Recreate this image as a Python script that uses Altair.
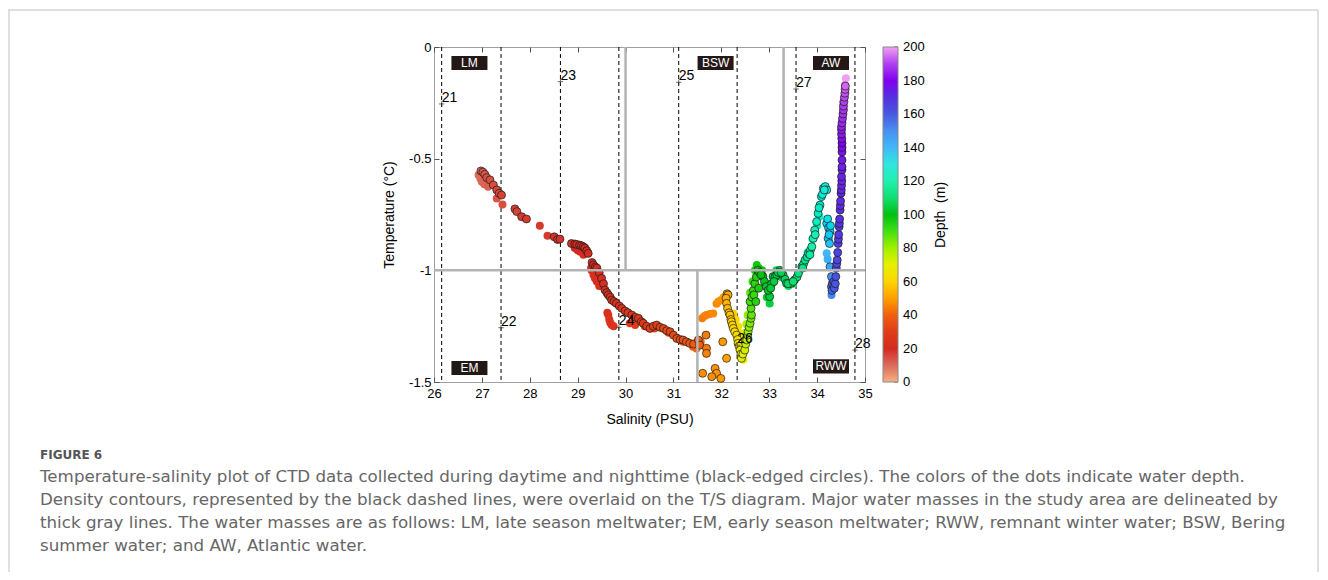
import altair as alt
import pandas as pd

# ---------------- data ----------------
night_sal = [26.98, 27.02, 27.06, 27.10, 27.17, 27.24, 27.31, 27.36, 27.41,
             27.69, 27.73, 27.83, 27.93,
             28.51, 28.58, 28.63,
             28.87, 28.94, 28.98, 29.04, 29.08, 29.12, 29.15, 29.19, 29.22,
             29.30, 29.33, 29.37, 29.40, 29.45, 29.50, 29.54, 29.57, 29.61, 29.64, 29.68, 29.71,
             29.76, 29.81, 29.87, 29.92, 29.99,
             30.05, 30.13, 30.20, 30.27, 30.33, 30.37, 30.44, 30.51, 30.58, 30.65, 30.72, 30.79,
             30.86, 30.93, 31.00, 31.07, 31.14, 31.20, 31.27, 31.34, 31.42, 31.52, 31.55,
             31.68, 31.69, 31.69, 31.61, 31.87, 31.90, 31.80, 31.99, 32.11, 32.03,
             32.12, 32.14, 32.10, 32.11, 32.13, 32.16, 32.18, 32.20, 32.21, 32.23, 32.25, 32.28,
             32.32, 32.34, 32.35, 32.37, 32.39, 32.41, 32.42,
             32.45, 32.49, 32.51, 32.53, 32.55, 32.56, 32.58, 32.60, 32.62, 32.63, 32.62, 32.60,
             32.64, 32.67, 32.70, 32.73, 32.76,
             32.80, 32.87, 32.90, 32.94, 33.01, 33.05, 33.08, 33.12, 33.16, 33.22, 33.29, 33.33,
             33.36, 33.42, 33.46, 33.53, 33.58, 33.61,
             32.83, 32.98, 33.03, 33.10, 33.19, 33.25, 33.39, 33.50, 32.68, 32.72, 32.78,
             33.68, 33.72, 33.75, 33.79, 33.82, 33.86, 33.89, 33.92, 33.95, 33.99, 34.02, 34.06,
             34.09, 34.13, 34.17, 34.20,
             33.70, 33.85, 33.96, 34.04, 34.11, 34.15,
             34.20, 34.24, 34.27, 34.23, 34.26, 34.22, 34.28, 34.25,
             34.27, 34.30, 34.30, 34.31, 34.32, 34.35, 34.36, 34.38,
             34.39, 34.40, 34.41, 34.42, 34.43, 34.44, 34.445, 34.45, 34.46, 34.465, 34.47, 34.48,
             34.485, 34.49, 34.50, 34.505, 34.51, 34.515, 34.51, 34.52, 34.52, 34.52, 34.52, 34.52,
             34.52, 34.515, 34.51, 34.51, 34.51, 34.52, 34.53, 34.54, 34.55, 34.55, 34.56, 34.57,
             34.58, 34.585, 34.59]
night_temp = [-0.555, -0.560, -0.570, -0.585, -0.595, -0.618, -0.640, -0.655, -0.663,
              -0.725, -0.737, -0.760, -0.770,
              -0.850, -0.862, -0.860,
              -0.880, -0.882, -0.884, -0.887, -0.890, -0.895, -0.900, -0.912, -0.924,
              -0.965, -0.976, -0.985, -0.990, -1.010, -1.036, -1.060, -1.088, -1.100, -1.110, -1.120, -1.133,
              -1.140, -1.148, -1.160, -1.170, -1.182,
              -1.190, -1.200, -1.210, -1.215, -1.230, -1.237, -1.250, -1.260, -1.250, -1.245, -1.255, -1.260,
              -1.270, -1.275, -1.290, -1.305, -1.310, -1.312, -1.320, -1.327, -1.330, -1.312, -1.335,
              -1.290, -1.349, -1.372, -1.461, -1.439, -1.461, -1.476, -1.484, -1.394, -1.320,
              -1.105, -1.110, -1.125, -1.148, -1.170, -1.190, -1.200, -1.220, -1.230, -1.245, -1.260, -1.275,
              -1.290, -1.310, -1.327, -1.340, -1.357, -1.375, -1.394,
              -1.375, -1.357, -1.330, -1.312, -1.290, -1.275, -1.255, -1.237, -1.215, -1.200, -1.170, -1.140,
              -1.120, -1.090, -1.060, -1.030, -1.000,
              -1.010, -1.028, -1.050, -1.073, -1.118, -1.060, -1.028, -1.030, -1.020, -1.000, -1.021, -1.040,
              -1.058, -1.060, -1.058, -1.043, -1.030, -1.013,
              -1.020, -1.090, -1.080, -1.050, -1.010, -1.010, -1.060, -1.050, -1.110, -1.140, -1.080,
              -0.984, -0.970, -0.954, -0.940, -0.924, -0.910, -0.894, -0.857, -0.820, -0.782, -0.745, -0.708,
              -0.670, -0.633, -0.625, -0.640,
              -0.990, -0.930, -0.840, -0.720, -0.660, -0.640,
              -0.790, -0.810, -0.827, -0.857, -0.880, -0.770, -0.800, -0.840,
              -0.984, -1.028, -1.073, -1.090, -1.060, -1.050, -1.080, -1.060,
              -1.028, -0.990, -0.970, -0.954, -0.920, -0.880, -0.860, -0.840, -0.805, -0.790, -0.770, -0.730,
              -0.710, -0.690, -0.655, -0.640, -0.620, -0.600, -0.580, -0.550, -0.536, -0.506, -0.470, -0.450,
              -0.430, -0.410, -0.390, -0.370, -0.357, -0.340, -0.320, -0.300, -0.282, -0.265, -0.245, -0.225,
              -0.207, -0.190, -0.175]
night_depth = [12, 13, 14, 14, 15, 15, 16, 16, 17,
               17, 17, 18, 18,
               19, 19, 19,
               19, 20, 20, 20, 20, 20, 21, 21, 21,
               21, 21, 22, 22, 22, 22, 23, 23, 23, 24, 24, 24,
               25, 25, 25, 26, 26,
               27, 27, 28, 28, 29, 29, 30, 30, 31, 31, 32, 32,
               33, 33, 34, 35, 35, 36, 36, 37, 38, 39, 40,
               44, 44, 45, 47, 48, 48, 47, 49, 50, 49,
               52, 52, 53, 54, 55, 56, 57, 58, 59, 60, 61, 62,
               63, 64, 65, 66, 67, 68, 69,
               71, 73, 75, 77, 79, 80, 82, 84, 86, 87, 89, 90,
               91, 92, 94, 96, 98,
               99, 100, 101, 102, 103, 103, 104, 104, 105, 105, 106, 107,
               107, 108, 109, 110, 111, 112,
               100, 102, 103, 104, 105, 106, 108, 110, 92, 95, 97,
               113, 114, 115, 116, 117, 118, 119, 120, 121, 122, 123, 124,
               125, 126, 127, 128,
               113, 117, 121, 124, 126, 127,
               133, 135, 136, 137, 138, 132, 134, 137,
               145, 150, 155, 158, 160, 159, 160, 161,
               162, 164, 164, 165, 166, 167, 167, 168, 169, 169, 170, 171,
               171, 172, 173, 173, 174, 174, 175, 175, 176, 177, 178, 179,
               180, 181, 182, 183, 184, 185, 186, 187, 188, 189, 190, 191,
               192, 193, 194]

day_sal = [26.93, 26.97, 27.00, 27.05, 27.13, 27.31, 27.43, 28.21, 28.37,
           28.94, 29.00, 29.05, 29.12, 29.28, 29.29, 29.33, 29.36, 29.40, 29.45,
           29.62, 29.64, 29.66, 29.68, 29.71, 29.75,
           30.09, 30.20, 30.40, 30.60, 30.90, 31.20, 31.41, 31.48, 31.57,
           31.60, 31.65, 31.69, 31.76, 31.83, 31.90, 31.94, 32.00, 32.05,
           32.25, 32.30, 32.35, 32.39, 32.42, 32.44, 32.46, 32.46, 32.48, 32.50, 32.52, 32.55,
           32.60, 32.65, 32.70, 32.74, 32.78, 32.85, 33.01, 32.95, 33.15, 33.25, 33.40, 33.50,
           33.80, 33.90, 34.00, 34.05,
           34.20, 34.22, 34.25, 34.30, 34.32,
           34.55, 34.58, 34.60, 34.58]
day_temp = [-0.573, -0.590, -0.603, -0.615, -0.626, -0.678, -0.705, -0.800, -0.845,
            -0.900, -0.910, -0.917, -0.930, -0.990, -1.000, -1.020, -1.036, -1.050, -1.070,
            -1.190, -1.200, -1.220, -1.235, -1.245, -1.250,
            -1.237, -1.245, -1.250, -1.260, -1.280, -1.320, -1.342, -1.350, -1.320,
            -1.215, -1.205, -1.200, -1.196, -1.193, -1.150, -1.140, -1.133, -1.120,
            -1.193, -1.220, -1.250, -1.282, -1.310, -1.340, -1.370, -1.400, -1.320, -1.280, -1.240, -1.200,
            -1.100, -1.050, -1.000, -0.976, -0.990, -1.000, -1.148, -1.120, -1.000, -1.030, -1.070, -1.060,
            -0.920, -0.860, -0.800, -0.760,
            -0.924, -0.950, -0.870, -1.110, -1.050,
            -0.250, -0.200, -0.140, -0.170]
day_depth = [10, 10, 11, 11, 12, 14, 15, 18, 18,
             20, 20, 20, 21, 21, 21, 22, 22, 22, 23,
             24, 24, 25, 25, 25, 26,
             28, 29, 30, 32, 34, 37, 39, 40, 41,
             44, 44, 45, 45, 46, 46, 47, 47, 48,
             58, 60, 62, 64, 66, 68, 70, 70, 72, 75, 78, 82,
             88, 92, 96, 98, 99, 100, 104, 103, 106, 107, 109, 110,
             117, 120, 122, 124,
             140, 142, 138, 152, 150,
             190, 195, 200, 198]

# density contours (sigma-t) and their labels
contour_sal = [26.16, 27.40, 28.64, 29.86, 31.11, 32.33, 33.56, 34.79]
contour_name = ["21", "22", "23", "24", "25", "26", "27", "28"]
contour_label_temp = [-0.255, -1.257, -0.155, -1.255, -0.158, -1.335, -0.188, -1.357]

# water-mass boundaries (thick gray lines)
bound_s1 = [26.0, 30.0, 33.3, 31.5]
bound_t1 = [-1.0, 0.0, 0.0, -1.0]
bound_s2 = [35.0, 30.0, 33.3, 31.5]
bound_t2 = [-1.0, -1.0, -1.0, -1.5]

# water-mass labels
mass_name = ["LM", "EM", "BSW", "AW", "RWW"]
mass_sal = [26.74, 26.74, 31.88, 34.29, 34.29]
mass_temp = [-0.072, -1.437, -0.072, -0.072, -1.430]

x_ticks = [26, 27, 28, 29, 30, 31, 32, 33, 34, 35]
y_ticks = [0, -0.5, -1, -1.5]
depth_ticks = [0, 20, 40, 60, 80, 100, 120, 140, 160, 180, 200]
depth_stops = [0, 10, 20, 30, 40, 50, 60, 70, 80, 90, 100, 110, 120, 130, 140, 150,
               160, 170, 180, 190, 200]
depth_colors = ["#f8b080", "#dc6a5c", "#d42a22", "#e03c18", "#f06010", "#ffa000",
                "#ffd400", "#e6f000", "#a0f000", "#40e010", "#00c010", "#10e070",
                "#20f0b0", "#30e6e0", "#40b8f8", "#4890f0", "#4858e0", "#5530e0",
                "#8000f0", "#b040f0", "#f0a0f0"]

caption_head = "FIGURE 6"
caption_lines = [
    "Temperature-salinity plot of CTD data collected during daytime and nighttime (black-edged circles). The colors of the dots indicate water depth.",
    "Density contours, represented by the black dashed lines, were overlaid on the T/S diagram. Major water masses in the study area are delineated by",
    "thick gray lines. The water masses are as follows: LM, late season meltwater; EM, early season meltwater; RWW, remnant winter water; BSW, Bering",
    "summer water; and AW, Atlantic water.",
]

# ---------------- frames ----------------
night = pd.DataFrame({"s": night_sal, "t": night_temp, "d": night_depth})
day = pd.DataFrame({"s": day_sal, "t": day_temp, "d": day_depth})
contours = pd.DataFrame({"s": contour_sal, "name": contour_name, "tl": contour_label_temp,
                         "t1": [0.0] * len(contour_sal), "t2": [-1.5] * len(contour_sal)})
bounds = pd.DataFrame({"s1": bound_s1, "t1": bound_t1, "s2": bound_s2, "t2": bound_t2})
masses = pd.DataFrame({"name": mass_name, "s": mass_sal, "t": mass_temp})
cbar = pd.DataFrame({"d": depth_ticks})
one = pd.DataFrame({"k": [0]})

FONT = "Liberation Sans"
CAPFONT = "DejaVu Sans"
W, H = 431, 335
xs = alt.Scale(domain=[26, 35], nice=False, zero=False)
ys = alt.Scale(domain=[-1.5, 0], nice=False, zero=False)
cs = alt.Scale(domain=depth_stops, range=depth_colors, type="linear")

lab = "'' + datum.value"
ax_base = dict(grid=False, domain=False, offset=-5, tickSize=5, tickColor="#555555",
               tickWidth=1, labelFont=FONT, labelFontSize=13, labelColor="#000000", labelFlush=False)
ax_title = dict(titleFont=FONT, titleFontSize=14, titleFontWeight="normal", titleColor="#000000")

# contours with bottom/left axes
contour_layer = alt.Chart(contours).mark_rule(color="#000000", strokeWidth=1, strokeDash=[4, 3]).encode(
    x=alt.X("s:Q", scale=xs, axis=alt.Axis(orient="bottom", values=x_ticks, labelExpr=lab,
                                           labelPadding=5, title="Salinity (PSU)", titlePadding=12,
                                           **ax_base, **ax_title)),
    y=alt.Y("t1:Q", scale=ys, axis=alt.Axis(orient="left", values=y_ticks, labelExpr=lab,
                                            labelPadding=3, title="Temperature (°C)", titlePadding=12,
                                            **ax_base, **ax_title)),
    y2="t2:Q",
)

color_enc = alt.Color("d:Q", scale=cs, legend=alt.Legend(
    orient="none", legendX=449, legendY=0, direction="vertical", title=None,
    gradientLength=335, gradientThickness=15, values=[0, 200],
    gradientStrokeColor="#888888", gradientStrokeWidth=1,
    labelExpr="''", labelOverlap=False, padding=0))

PT = 64
day_layer = alt.Chart(day).mark_circle(size=PT, opacity=1).encode(
    x=alt.X("s:Q", scale=xs, axis=None), y=alt.Y("t:Q", scale=ys, axis=None), color=color_enc)
night_layer = alt.Chart(night).mark_circle(size=PT, opacity=1, stroke="#1a1a1a", strokeWidth=0.7).encode(
    x=alt.X("s:Q", scale=xs, axis=None), y=alt.Y("t:Q", scale=ys, axis=None), color=color_enc)

# gray boundaries, carrying top/right tick-only axes
bound_layer = alt.Chart(bounds).mark_rule(color="#b3b3b3", strokeWidth=2.5).encode(
    x=alt.X("s1:Q", scale=xs, axis=alt.Axis(orient="top", values=x_ticks, labels=False, title=None,
                                            **ax_base)),
    y=alt.Y("t1:Q", scale=ys, axis=alt.Axis(orient="right", values=y_ticks, labels=False, title=None,
                                            **ax_base)),
    x2="s2:Q", y2="t2:Q",
)

plus_layer = alt.Chart(contours).mark_point(shape="M-1,0H1M0,-1V1", size=30, filled=False,
                                            color="#333333", strokeWidth=1).encode(
    x=alt.X("s:Q", scale=xs, axis=None), y=alt.Y("tl:Q", scale=ys, axis=None))
clabel_layer = alt.Chart(contours).mark_text(font=FONT, fontSize=14, align="left", baseline="bottom",
                                             dx=0, dy=1, color="#000000").encode(
    x=alt.X("s:Q", scale=xs, axis=None), y=alt.Y("tl:Q", scale=ys, axis=None), text="name:N")

box_layer = alt.Chart(masses).transform_calculate(
    x1="datum.s - 0.376", x2="datum.s + 0.376", y1="datum.t + 0.0315", y2="datum.t - 0.0315"
).mark_rect(color="#231815").encode(
    x=alt.X("x1:Q", scale=xs, axis=None), x2="x2:Q",
    y=alt.Y("y1:Q", scale=ys, axis=None), y2="y2:Q")
box_text = alt.Chart(masses).mark_text(font=FONT, fontSize=12, color="#ffffff", baseline="middle").encode(
    x=alt.X("s:Q", scale=xs, axis=None), y=alt.Y("t:Q", scale=ys, axis=None), text="name:N")

# colorbar tick labels and small ticks (depth mapped onto the bar's height)
cbar_base = alt.Chart(cbar).transform_calculate(pos="-1.5 + datum.d * 1.5 / 200")
cbar_labels = cbar_base.mark_text(font=FONT, fontSize=13, color="#000000", align="left",
                                  baseline="middle").encode(
    x=alt.value(469), y=alt.Y("pos:Q", scale=ys, axis=None), text="d:N")
cbar_ticks = cbar_base.mark_rule(color="#555555", strokeWidth=1).encode(
    x=alt.value(460), x2=alt.value(464), y=alt.Y("pos:Q", scale=ys, axis=None))

depth_title = alt.Chart(one).mark_text(font=FONT, fontSize=14, angle=270, color="#000000",
                                       baseline="middle", align="center").encode(
    x=alt.value(507), y=alt.value(168), text=alt.value("Depth\u00a0 (m)"))

cap_head = alt.Chart(one).mark_text(font=CAPFONT, fontSize=12, fontWeight=600, color="#555555",
                                    align="left", baseline="middle").encode(
    x=alt.value(-394), y=alt.value(408), text=alt.value(caption_head))
cap_body = alt.Chart(one).mark_text(font=CAPFONT, fontSize=16.7, color="#666666", align="left",
                                    baseline="top", lineHeight=23).encode(
    x=alt.value(-394), y=alt.value(422), text=alt.value(caption_lines))

border_top = alt.Chart(one).mark_rule(color="#d6d6d6", strokeWidth=1.5).encode(
    x=alt.value(-426), x2=alt.value(884), y=alt.value(-37))
border_left = alt.Chart(one).mark_rule(color="#d6d6d6", strokeWidth=1.5).encode(
    x=alt.value(-425), y=alt.value(-37), y2=alt.value(530))
border_right = alt.Chart(one).mark_rule(color="#d6d6d6", strokeWidth=1.5).encode(
    x=alt.value(884), y=alt.value(-37), y2=alt.value(530))

chart = alt.layer(
    contour_layer, day_layer, night_layer, bound_layer, plus_layer, clabel_layer,
    box_layer, box_text, cbar_ticks, cbar_labels, depth_title, cap_head, cap_body,
    border_top, border_left, border_right
).resolve_axis(x="independent", y="independent").properties(
    width=W, height=H,
    autosize=alt.AutoSizeParams(type="none"),
    padding={"left": 426, "top": 39, "right": 455, "bottom": 190},
    background="#ffffff",
).configure_view(stroke="#a0a0a0", strokeWidth=1)

chart.save("out.html", embed_options={"renderer": "svg", "actions": False})
